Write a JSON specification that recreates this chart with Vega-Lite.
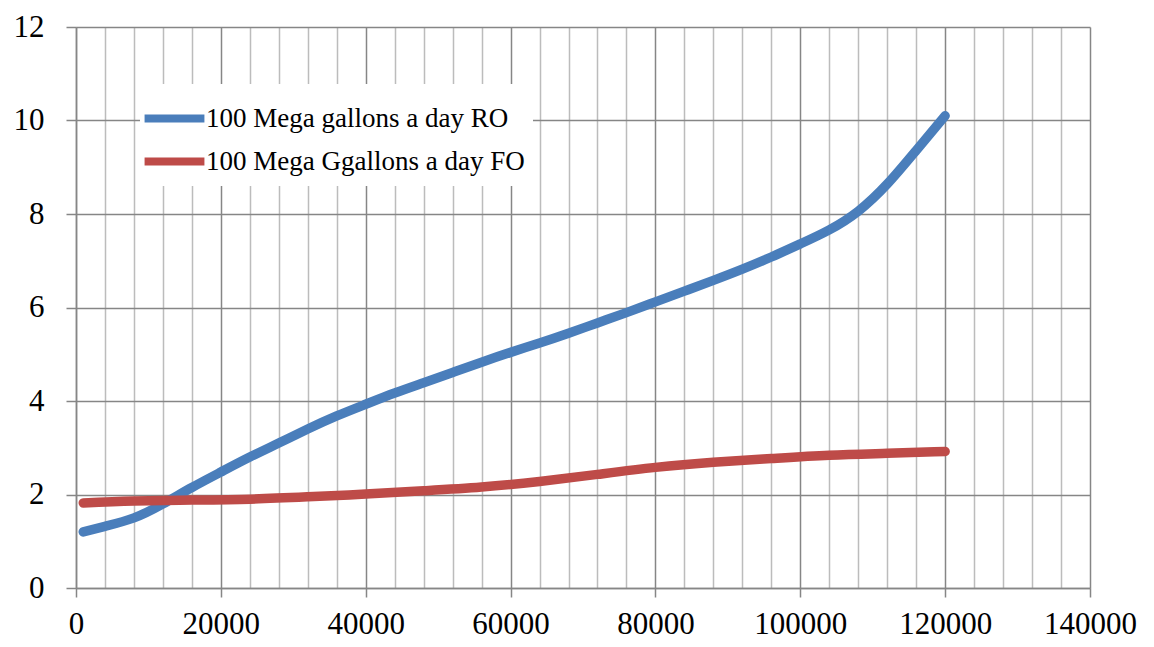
{
  "$schema": "https://vega.github.io/schema/vega-lite/v6.json",
  "autosize": {"type": "none"},
  "width": 1014,
  "height": 561,
  "padding": {"left": 76, "top": 27, "right": 64, "bottom": 59},
  "background": "white",
  "config": {
    "view": {"stroke": null},
    "font": "Liberation Serif",
    "axis": {
      "labelFont": "Liberation Serif",
      "labelFontSize": 31,
      "labelColor": "#000000",
      "domainColor": "#868686",
      "domainWidth": 1.5,
      "tickColor": "#868686",
      "tickWidth": 1.5,
      "gridWidth": 1.5,
      "title": null
    }
  },
  "data": {
    "values": [
      {"series": "100 Mega gallons a day RO", "x": 1000, "y": 1.2},
      {"series": "100 Mega gallons a day RO", "x": 4000, "y": 1.32},
      {"series": "100 Mega gallons a day RO", "x": 8000, "y": 1.5},
      {"series": "100 Mega gallons a day RO", "x": 12000, "y": 1.8},
      {"series": "100 Mega gallons a day RO", "x": 16000, "y": 2.15},
      {"series": "100 Mega gallons a day RO", "x": 20000, "y": 2.48},
      {"series": "100 Mega gallons a day RO", "x": 24000, "y": 2.8},
      {"series": "100 Mega gallons a day RO", "x": 28000, "y": 3.1},
      {"series": "100 Mega gallons a day RO", "x": 32000, "y": 3.4},
      {"series": "100 Mega gallons a day RO", "x": 36000, "y": 3.68},
      {"series": "100 Mega gallons a day RO", "x": 40000, "y": 3.93},
      {"series": "100 Mega gallons a day RO", "x": 44000, "y": 4.17},
      {"series": "100 Mega gallons a day RO", "x": 48000, "y": 4.39},
      {"series": "100 Mega gallons a day RO", "x": 52000, "y": 4.61},
      {"series": "100 Mega gallons a day RO", "x": 56000, "y": 4.83},
      {"series": "100 Mega gallons a day RO", "x": 60000, "y": 5.04},
      {"series": "100 Mega gallons a day RO", "x": 64000, "y": 5.24},
      {"series": "100 Mega gallons a day RO", "x": 68000, "y": 5.45},
      {"series": "100 Mega gallons a day RO", "x": 72000, "y": 5.67},
      {"series": "100 Mega gallons a day RO", "x": 76000, "y": 5.89},
      {"series": "100 Mega gallons a day RO", "x": 80000, "y": 6.12},
      {"series": "100 Mega gallons a day RO", "x": 84000, "y": 6.35},
      {"series": "100 Mega gallons a day RO", "x": 88000, "y": 6.58},
      {"series": "100 Mega gallons a day RO", "x": 92000, "y": 6.82},
      {"series": "100 Mega gallons a day RO", "x": 96000, "y": 7.08},
      {"series": "100 Mega gallons a day RO", "x": 100000, "y": 7.36},
      {"series": "100 Mega gallons a day RO", "x": 104000, "y": 7.66},
      {"series": "100 Mega gallons a day RO", "x": 108000, "y": 8.06},
      {"series": "100 Mega gallons a day RO", "x": 112000, "y": 8.64},
      {"series": "100 Mega gallons a day RO", "x": 116000, "y": 9.36},
      {"series": "100 Mega gallons a day RO", "x": 120000, "y": 10.1},
      {"series": "100 Mega Ggallons a day FO", "x": 1000, "y": 1.82},
      {"series": "100 Mega Ggallons a day FO", "x": 8000, "y": 1.86},
      {"series": "100 Mega Ggallons a day FO", "x": 16000, "y": 1.88},
      {"series": "100 Mega Ggallons a day FO", "x": 24000, "y": 1.9},
      {"series": "100 Mega Ggallons a day FO", "x": 32000, "y": 1.95},
      {"series": "100 Mega Ggallons a day FO", "x": 40000, "y": 2.01},
      {"series": "100 Mega Ggallons a day FO", "x": 48000, "y": 2.08},
      {"series": "100 Mega Ggallons a day FO", "x": 56000, "y": 2.16},
      {"series": "100 Mega Ggallons a day FO", "x": 64000, "y": 2.28},
      {"series": "100 Mega Ggallons a day FO", "x": 72000, "y": 2.43},
      {"series": "100 Mega Ggallons a day FO", "x": 80000, "y": 2.58},
      {"series": "100 Mega Ggallons a day FO", "x": 88000, "y": 2.69},
      {"series": "100 Mega Ggallons a day FO", "x": 96000, "y": 2.77},
      {"series": "100 Mega Ggallons a day FO", "x": 104000, "y": 2.84},
      {"series": "100 Mega Ggallons a day FO", "x": 112000, "y": 2.88},
      {"series": "100 Mega Ggallons a day FO", "x": 120000, "y": 2.92}
    ]
  },
  "mark": {"type": "line", "strokeWidth": 9.5, "strokeCap": "round", "strokeJoin": "round", "interpolate": "natural"},
  "encoding": {
    "x": {
      "field": "x",
      "type": "quantitative",
      "scale": {"domain": [0, 140000], "nice": false, "zero": false},
      "axis": {
        "values": [0, 4000, 8000, 12000, 16000, 20000, 24000, 28000, 32000, 36000, 40000, 44000, 48000, 52000, 56000, 60000, 64000, 68000, 72000, 76000, 80000, 84000, 88000, 92000, 96000, 100000, 104000, 108000, 112000, 116000, 120000, 124000, 128000, 132000, 136000, 140000],
        "format": "d",
        "labelExpr": "datum.value % 20000 === 0 ? datum.label : ''",
        "labelFont": "Liberation Serif",
        "labelFontSize": 31,
        "labelOverlap": false,
        "labelFlush": false,
        "labelPadding": 12,
        "tickSize": 9,
        "tickOpacity": {"condition": {"test": "datum.value % 20000 === 0", "value": 1}, "value": 0},
        "gridColor": {"condition": {"test": "datum.value % 20000 === 0", "value": "#868686"}, "value": "#bcbcbc"}
      }
    },
    "y": {
      "field": "y",
      "type": "quantitative",
      "scale": {"domain": [0, 12], "nice": false},
      "axis": {
        "values": [0, 2, 4, 6, 8, 10, 12],
        "labelFont": "Liberation Serif",
        "labelFontSize": 31,
        "tickSize": 10,
        "labelPadding": 22,
        "gridColor": "#868686"
      }
    },
    "color": {
      "field": "series",
      "type": "nominal",
      "scale": {
        "domain": ["100 Mega gallons a day RO", "100 Mega Ggallons a day FO"],
        "range": ["#4a7ebb", "#be4b48"]
      },
      "legend": {
        "title": null,
        "orient": "none",
        "legendX": 64,
        "legendY": 57,
        "padding": 8,
        "fillColor": "white",
        "strokeColor": null,
        "symbolType": "M-1.33,0L1.33,0",
        "symbolSize": 2025,
        "symbolStrokeWidth": 8,
        "labelFont": "Liberation Serif",
        "labelFontSize": 27,
        "labelColor": "#000000",
        "labelOffset": 5,
        "rowPadding": 0,
        "labelLimit": 500
      }
    }
  }
}
